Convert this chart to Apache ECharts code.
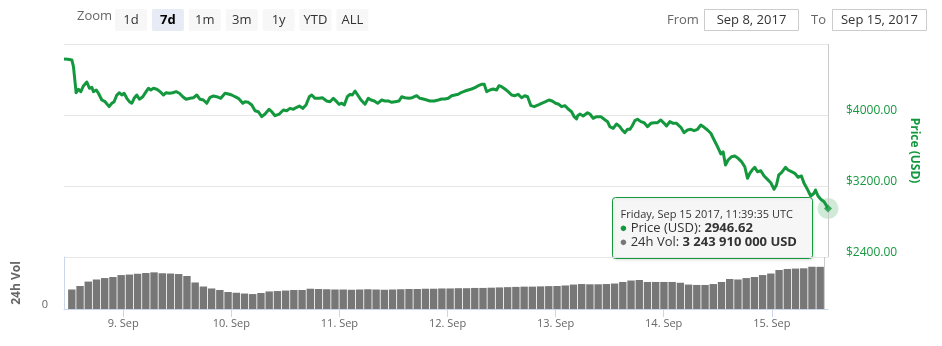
<!DOCTYPE html>
<html>
<head>
<meta charset="utf-8">
<script src="https://cdn.jsdelivr.net/npm/echarts@6/dist/echarts.min.js"></script>
<style>
  html, body { margin: 0; padding: 0; background: #fff; }
  #chart { width: 942px; height: 346px; }
</style>
</head>
<body>
<div id="chart"></div>
<script>
// Window shown by the "7d" zoom
const rangeStart = '2017-09-08T11:39:35Z';
const rangeEnd = '2017-09-15T11:39:35Z';
const dayZero = '2017-09-08T00:00:00Z';

// BTC price samples: hours after Sep 8 00:00 UTC, and price in USD
const priceHours = [
  11.66, 12.5, 13.38, 13.74, 14.33, 14.84, 15.36, 15.93, 16.68, 17.25, 17.78, 18.13, 18.73, 19.23, 19.98, 20.70,
  21.08, 21.58, 22.18, 22.68, 23.27, 23.85, 24.37, 24.88, 25.47, 26.04, 26.57, 27.08, 27.67, 28.24, 28.99, 29.71,
  30.22, 30.75, 31.32, 32.07, 32.79, 33.52, 34.11, 34.84, 35.58, 36.31, 37.03, 37.78, 38.51, 39.38, 40.11, 40.86,
  41.58, 42.31, 43.05, 43.78, 44.51, 45.25, 46.13, 47.08, 47.80, 48.55, 49.27, 50.00, 50.97, 51.47, 52.20, 52.95,
  53.67, 54.40, 55.14, 55.87, 56.75, 57.34, 58.07, 59.01, 59.89, 60.64, 61.36, 62.09, 62.84, 63.41, 64.15, 64.88,
  65.60, 66.13, 66.86, 67.80, 68.46, 69.43, 70.15, 70.88, 71.63, 72.13, 72.73, 73.30, 73.96, 74.55, 75.06, 75.65,
  76.24, 76.97, 77.85, 78.57, 79.17, 79.89, 80.64, 81.52, 82.24, 82.97, 83.71, 84.44, 85.32, 85.91, 86.64, 87.52,
  88.24, 89.21, 89.93, 90.66, 91.41, 92.13, 93.08, 93.96, 94.70, 95.43, 96.15, 96.90, 97.63, 98.35, 99.10, 99.82,
  100.55, 101.30, 102.02, 102.75, 103.50, 104.07, 104.59, 105.32, 106.04, 106.79, 107.30, 107.89, 108.62, 109.34,
  110.09, 110.81, 111.54, 112.29, 113.01, 113.60, 114.33, 115.06, 115.94, 116.68, 117.56, 118.29, 119.01, 119.76,
  120.48, 121.08, 121.80, 122.53, 123.27, 123.85, 124.37, 124.59, 125.10, 125.82, 126.79, 127.30, 128.02, 128.77,
  129.71, 130.44, 131.19, 131.69, 132.42, 133.16, 133.89, 134.40, 134.99, 135.58, 136.09, 136.59, 137.19, 137.78,
  138.51, 139.23, 139.98, 140.70, 141.43, 142.18, 142.90, 143.63, 144.15, 144.88, 145.61, 146.35, 147.30, 148.02,
  148.77, 149.49, 150.22, 150.97, 151.69, 152.42, 153.16, 153.89, 154.62, 155.36, 156.09, 156.59, 157.12, 157.69,
  158.44, 159.16, 159.89, 160.64, 161.36, 161.96, 162.46, 162.97, 163.56, 164.15, 164.88, 165.61, 166.35, 167.08,
  167.80, 168.33, 168.83, 169.43, 170.31, 170.88, 171.63, 172.35, 173.08, 173.82, 174.39, 175.14, 175.86, 176.59,
  176.90, 177.47, 178.07, 178.80, 179.54, 179.6597
];
const priceValues = [
  4630, 4628, 4620, 4544, 4251, 4290, 4263, 4327, 4372, 4301, 4312, 4263, 4282, 4245, 4169, 4150,
  4132, 4094, 4132, 4150, 4225, 4251, 4225, 4245, 4188, 4150, 4132, 4188, 4225, 4177, 4206, 4263,
  4301, 4282, 4301, 4290, 4263, 4225, 4251, 4245, 4251, 4263, 4245, 4206, 4177, 4188, 4195, 4225,
  4177, 4169, 4132, 4199, 4214, 4206, 4188, 4245, 4237, 4225, 4206, 4188, 4132, 4150, 4143, 4113,
  4048, 4037, 3981, 4011, 4064, 4037, 3992, 4011, 4056, 4048, 4075, 4064, 4087, 4101, 4075, 4113,
  4206, 4225, 4188, 4188, 4195, 4158, 4150, 4188, 4150, 4121, 4132, 4113, 4206, 4233, 4225, 4270,
  4225, 4169, 4121, 4188, 4169, 4158, 4132, 4169, 4158, 4158, 4143, 4150, 4158, 4206, 4195, 4188,
  4195, 4217, 4188, 4180, 4169, 4158, 4158, 4169, 4180, 4180, 4188, 4217, 4225, 4233, 4256, 4270,
  4282, 4293, 4308, 4330, 4346, 4346, 4263, 4282, 4293, 4282, 4330, 4319, 4293, 4263,
  4225, 4217, 4233, 4195, 4217, 4206, 4105, 4094, 4113, 4132, 4150, 4169, 4158, 4132,
  4121, 4094, 4105, 4068, 4037, 3981, 3955, 3989, 4011, 3989, 4026, 4011, 3963, 3981,
  3981, 3952, 3925, 3868, 3850, 3899, 3868, 3831, 3801, 3839, 3839, 3876, 3936, 3952,
  3925, 3913, 3868, 3906, 3913, 3913, 3944, 3906, 3876, 3925, 3906, 3906, 3861, 3801,
  3831, 3839, 3823, 3839, 3887, 3861, 3831, 3794, 3718, 3643, 3561, 3586, 3437, 3493,
  3530, 3538, 3512, 3474, 3417, 3287, 3343, 3380, 3411, 3361, 3372, 3313, 3275, 3237,
  3163, 3211, 3324, 3350, 3411, 3380, 3361, 3343, 3298, 3313, 3230, 3163, 3087, 3118,
  3155, 3087, 3050, 3023, 2960, 2946.62
];

// 24h volume in billions of USD, one column per equal slice of the window
const volumeValues = [
  1.50, 1.77, 2.11, 2.27, 2.38, 2.46, 2.61, 2.65, 2.71, 2.77, 2.82, 2.75, 2.73, 2.69, 2.54, 2.04,
  1.73, 1.58, 1.46, 1.31, 1.25, 1.19, 1.15, 1.23, 1.35, 1.38, 1.42, 1.46, 1.46, 1.56, 1.54, 1.52,
  1.50, 1.50, 1.48, 1.50, 1.52, 1.50, 1.48, 1.50, 1.52, 1.54, 1.54, 1.56, 1.56, 1.58, 1.58, 1.60,
  1.60, 1.62, 1.62, 1.64, 1.66, 1.68, 1.70, 1.72, 1.72, 1.74, 1.76, 1.77, 1.81, 1.88, 1.92, 1.90,
  1.90, 1.92, 1.96, 2.08, 2.19, 2.23, 2.08, 2.08, 2.08, 2.08, 2.02, 1.88, 1.85, 1.85, 1.92, 2.08,
  2.31, 2.27, 2.38, 2.46, 2.61, 2.73, 3.00, 3.08, 3.11, 3.13, 3.25, 3.24391
];

const priceTicks = [2400, 3200, 4000, 4800];
const volumeMax = 4;
const zoomButtons = ['1d', '7d', '1m', '3m', '1y', 'YTD', 'ALL'];
const selectedZoom = '7d';
const fromDate = 'Sep 8, 2017';
const toDate = 'Sep 15, 2017';
const priceName = 'Price (USD)';
const volumeName = '24h Vol';

const MONTHS = ['Jan', 'Feb', 'Mar', 'Apr', 'May', 'Jun', 'Jul', 'Aug', 'Sep', 'Oct', 'Nov', 'Dec'];
const DAYS = ['Sunday', 'Monday', 'Tuesday', 'Wednesday', 'Thursday', 'Friday', 'Saturday'];
const HOUR = 3600 * 1000;
const t0 = Date.parse(dayZero);
const tMin = Date.parse(rangeStart);
const tMax = Date.parse(rangeEnd);

const GREEN = '#14983e';
const FONT = '"Open Sans", sans-serif';

const n = Math.min(priceHours.length, priceValues.length);
const priceData = [];
for (let i = 0; i < n; i++) priceData.push([t0 + priceHours[i] * HOUR, priceValues[i]]);

const slot = (tMax - tMin) / volumeValues.length;
const volumeData = volumeValues.map((v, i) => [tMin + (i + 0.5) * slot, v]);

const last = priceData[priceData.length - 1];
const lastVol = volumeValues[volumeValues.length - 1];

function pad(x) { return String(x).padStart(2, '0'); }
function tooltipHeader(t) {
  const d = new Date(Math.round(t / 1000) * 1000);
  return DAYS[d.getUTCDay()] + ', ' + MONTHS[d.getUTCMonth()] + ' ' + d.getUTCDate() + ' ' + d.getUTCFullYear() +
    ', ' + pad(d.getUTCHours()) + ':' + pad(d.getUTCMinutes()) + ':' + pad(d.getUTCSeconds()) + ' UTC';
}
function spaced(v) {
  return String(Math.round(v)).replace(/\B(?=(\d{3})+(?!\d))/g, ' ');
}

// Range selector buttons and date inputs
const uiElements = [];
uiElements.push({
  type: 'text', left: 77, top: 10,
  style: { text: 'Zoom', fill: '#666', font: '13px ' + FONT }
});
zoomButtons.forEach((label, i) => {
  const x = 115 + i * 36.9;
  const sel = label === selectedZoom;
  uiElements.push({
    type: 'rect', shape: { x: x, y: 9, width: 32, height: 22, r: 2 },
    style: { fill: sel ? '#e6ebf5' : '#f7f7f7' }
  });
  uiElements.push({
    type: 'text', x: x + 16, y: 20,
    style: {
      text: label, fill: sel ? '#000' : '#333', align: 'center', verticalAlign: 'middle',
      font: (sel ? 'bold ' : '') + '13px ' + FONT
    }
  });
});
[[fromDate, 'From', 667, 704.5], [toDate, 'To', 811, 832.5]].forEach(([val, lab, lx, bx]) => {
  uiElements.push({
    type: 'text', x: lx, y: 20,
    style: { text: lab, fill: '#666', verticalAlign: 'middle', font: '13px ' + FONT }
  });
  uiElements.push({
    type: 'rect', shape: { x: bx, y: 9.5, width: 94, height: 21 },
    style: { fill: '#fff', stroke: '#cccccc', lineWidth: 1 }
  });
  uiElements.push({
    type: 'text', x: bx + 47, y: 20,
    style: { text: val, fill: '#333', align: 'center', verticalAlign: 'middle', font: '13px ' + FONT }
  });
});

// Hover tooltip for the latest point
uiElements.push({
  type: 'group', x: 612.5, y: 197.5,
  children: [
    {
      type: 'rect', shape: { x: 0, y: 0, width: 200, height: 61, r: 3 },
      style: { fill: 'rgba(247,247,247,0.92)', stroke: GREEN, lineWidth: 1,
               shadowBlur: 3, shadowOffsetX: 1, shadowOffsetY: 1, shadowColor: 'rgba(0,0,0,0.12)' }
    },
    {
      type: 'text', x: 8, y: 17,
      style: { text: tooltipHeader(last[0]), fill: '#333', verticalAlign: 'middle', font: '11px ' + FONT }
    },
    {
      type: 'text', x: 7, y: 30.5,
      style: {
        text: '{d|●} {l|' + priceName + ': }{v|' + last[1].toFixed(2) + '}',
        verticalAlign: 'middle',
        rich: {
          d: { fill: GREEN, fontSize: 13, fontFamily: FONT },
          l: { fill: '#333', fontSize: 13, fontFamily: FONT },
          v: { fill: '#333', fontSize: 13, fontWeight: 'bold', fontFamily: FONT }
        }
      }
    },
    {
      type: 'text', x: 7, y: 45,
      style: {
        text: '{d|●} {l|' + volumeName + ': }{v|' + spaced(lastVol * 1e9) + ' USD}',
        verticalAlign: 'middle',
        rich: {
          d: { fill: '#777', fontSize: 13, fontFamily: FONT },
          l: { fill: '#333', fontSize: 13, fontFamily: FONT },
          v: { fill: '#333', fontSize: 13, fontWeight: 'bold', fontFamily: FONT }
        }
      }
    }
  ]
});

const chart = echarts.init(document.getElementById('chart'), null, { renderer: 'canvas' });

const crosshair = {
  symbol: 'none', silent: true, animation: false,
  label: { show: false },
  lineStyle: { color: '#cccccc', type: 'solid', width: 1 },
  data: [{ xAxis: last[0] }]
};

chart.setOption({
  animation: false,
  useUTC: true,
  textStyle: { fontFamily: FONT },
  grid: [
    { left: 64, right: 114, top: 44, height: 213 },
    { left: 64, right: 114, top: 257, height: 52 }
  ],
  xAxis: [
    {
      type: 'time', gridIndex: 0, min: tMin, max: tMax,
      axisLine: { show: false }, axisTick: { show: false }, axisLabel: { show: false },
      splitLine: { show: false }
    },
    {
      type: 'time', gridIndex: 1, min: tMin, max: tMax,
      minInterval: 24 * HOUR, maxInterval: 24 * HOUR,
      axisLine: { show: true, lineStyle: { color: '#ccd6eb' } },
      axisTick: { show: true, length: 8, lineStyle: { color: '#ccd6eb' } },
      splitLine: { show: false },
      axisLabel: {
        color: '#666', fontSize: 11, fontFamily: FONT, margin: 9,
        showMinLabel: false, showMaxLabel: false,
        formatter: v => { const d = new Date(v); return d.getUTCDate() + '. ' + MONTHS[d.getUTCMonth()]; }
      }
    }
  ],
  yAxis: [
    {
      type: 'value', gridIndex: 0, position: 'right',
      min: priceTicks[0], max: priceTicks[priceTicks.length - 1], interval: priceTicks[1] - priceTicks[0],
      axisLine: { show: false }, axisTick: { show: false },
      splitLine: { show: true, lineStyle: { color: '#e6e6e6', width: 1 } },
      axisLabel: {
        color: GREEN, fontSize: 12, fontFamily: FONT, margin: 18, verticalAlign: 'bottom', lineHeight: 8,
        formatter: v => v === priceTicks[priceTicks.length - 1] ? '' : '$' + v.toFixed(2)
      },
      name: priceName, nameLocation: 'middle', nameRotate: -90, nameGap: 77,
      nameTextStyle: { color: GREEN, fontWeight: 'bold', fontSize: 12, fontFamily: FONT }
    },
    {
      type: 'value', gridIndex: 1, position: 'left', min: 0, max: volumeMax,
      axisLine: { show: true, lineStyle: { color: '#ccd6eb' } }, axisTick: { show: false },
      splitLine: { show: false },
      axisLabel: {
        color: '#666', fontSize: 11, fontFamily: FONT, margin: 16, verticalAlign: 'bottom', lineHeight: 8,
        formatter: v => v === 0 ? '0' : ''
      },
      name: volumeName, nameLocation: 'middle', nameRotate: 90, nameGap: 41,
      nameTextStyle: { color: '#666', fontWeight: 'bold', fontSize: 12, fontFamily: FONT }
    }
  ],
  series: [
    {
      name: priceName, type: 'line', xAxisIndex: 0, yAxisIndex: 0,
      data: priceData, showSymbol: false, symbol: 'none',
      lineStyle: { color: GREEN, width: 3, join: 'round' },
      markLine: crosshair, z: 3
    },
    {
      type: 'scatter', xAxisIndex: 0, yAxisIndex: 0, data: [last],
      symbol: 'circle', symbolSize: 21, itemStyle: { color: 'rgba(20,152,62,0.25)' }, silent: true, z: 4
    },
    {
      type: 'scatter', xAxisIndex: 0, yAxisIndex: 0, data: [last],
      symbol: 'diamond', symbolSize: 8, itemStyle: { color: GREEN }, silent: true, z: 5
    },
    {
      name: volumeName, type: 'bar', xAxisIndex: 1, yAxisIndex: 1,
      data: volumeData, barWidth: 7.4, itemStyle: { color: '#777777' },
      markLine: crosshair
    }
  ],
  graphic: uiElements
});
</script>
</body>
</html>
